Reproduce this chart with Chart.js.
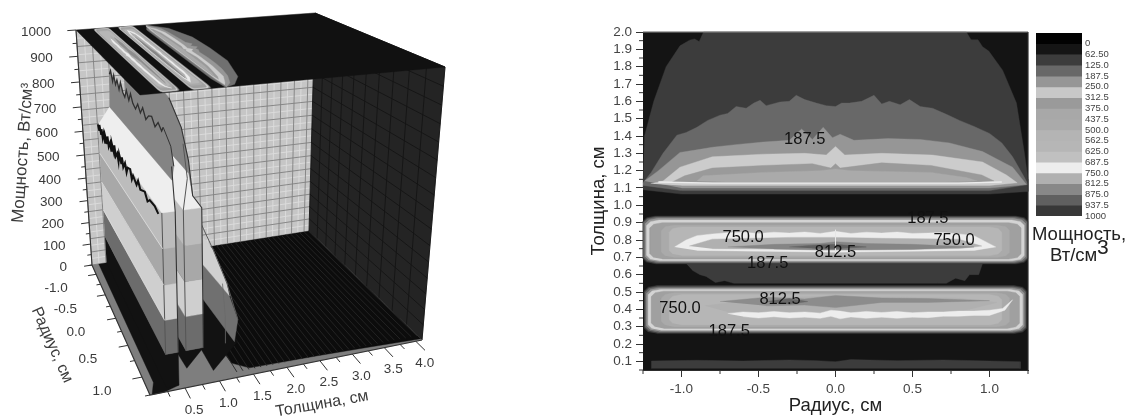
<!DOCTYPE html>
<html>
<head>
<meta charset="utf-8">
<title>Мощность</title>
<script src="https://cdn.jsdelivr.net/npm/chart.js@4"></script>
<style>
  html, body { margin: 0; background: #fff; }
  body { width: 1127px; height: 419px; position: relative; overflow: hidden; }
  .box { position: absolute; top: 0; height: 419px; }
  .box canvas { filter: blur(.6px); }
</style>
</head>
<body>
<div class="box" style="left:0;width:480px"><canvas id="surface" width="480" height="419"></canvas></div>
<div class="box" style="left:588px;width:442px"><canvas id="contour" width="442" height="419"></canvas></div>
<div class="box" style="left:1030px;width:97px"><canvas id="scale" width="97" height="419"></canvas></div>
<script>
/* ── Axis ticks ──────────────────────────────────────────── */
const thicknessTicks = [0.1,0.2,0.3,0.4,0.5,0.6,0.7,0.8,0.9,1.0,1.1,1.2,1.3,1.4,1.5,1.6,1.7,1.8,1.9,2.0];
const radiusTicks    = [-1.0,-0.5,0.0,0.5,1.0];
const radiusMinor    = [-1.25,-0.75,-0.25,0.25,0.75,1.25];
const powerTicks3d   = [0,100,200,300,400,500,600,700,800,900,1000];
const radiusTicks3d  = [-1.0,-0.5,0.0,0.5,1.0];
const thickTicks3d   = [0.5,1.0,1.5,2.0,2.5,3.0,3.5,4.0];

/* ── Colour scale ────────────────────────────────────────── */
const powerLabels = ['0','62.50','125.0','187.5','250.0','312.5','375.0','437.5','500.0','562.5','625.0','687.5','750.0','812.5','875.0','937.5','1000'];
const powerGrays  = ['#020202','#151515','#3c3c3c','#686868','#969696','#c8c8c8','#9a9a9a','#a8a8a8','#aaaaaa','#b4b4b4','#b6b6b6','#c0c0c0','#ededed','#b0b0b0','#888888','#606060','#383838'];

/* ── Contour edges (radius, thickness) ───────────────────── */
const bgR = [-1.25,1.25,1.25,-1.25];
const bgT = [0.05,0.05,2.0,2.0];

const u1R = [-1.25,-1.24,-1.18,-1.10,-1.01,-0.948,-0.915,-0.885,-0.857,0.85,0.88,0.925,0.955,0.995,1.085,1.175,1.227,1.25,1.25,1.0,-1.0,-1.25];
const u1T = [1.10,1.40,1.60,1.80,1.92,1.953,1.96,1.945,2.0,2.0,1.955,1.955,1.915,1.89,1.78,1.59,1.30,1.15,1.08,1.065,1.065,1.09];
const u2R = [-1.25,-1.197,-1.12,-1.03,-0.97,-0.90,-0.83,-0.75,-0.70,-0.645,-0.58,-0.53,-0.49,-0.45,-0.36,-0.30,-0.255,-0.20,-0.125,-0.06,0,0.04,0.09,0.17,0.25,0.30,0.35,0.42,0.48,0.55,0.63,0.72,0.805,0.90,1.0,1.08,1.15,1.227,1.25,1.0,-1.0,-1.25];
const u2T = [1.13,1.19,1.30,1.405,1.42,1.45,1.49,1.52,1.53,1.57,1.56,1.59,1.606,1.575,1.596,1.60,1.635,1.61,1.59,1.575,1.57,1.59,1.59,1.60,1.635,1.585,1.60,1.58,1.61,1.57,1.56,1.525,1.49,1.455,1.415,1.36,1.28,1.16,1.12,1.085,1.085,1.115];
const u3R = [-1.24,-1.15,-1.01,-0.9,-0.8,-0.65,-0.47,-0.3,-0.22,-0.15,-0.08,-0.02,0.03,0.12,0.34,0.55,0.74,0.955,1.15,1.24,1.0,-1.0];
const u3T = [1.14,1.2,1.305,1.32,1.335,1.35,1.365,1.375,1.44,1.38,1.45,1.39,1.41,1.375,1.385,1.38,1.36,1.31,1.22,1.12,1.10,1.10];
const u4R = [-1.2,-1.12,-1.01,-0.8,-0.47,-0.2,-0.06,0,0.06,0.3,0.63,0.955,1.11,1.18,1.0,-1.0];
const u4T = [1.125,1.14,1.22,1.28,1.295,1.30,1.29,1.34,1.29,1.30,1.29,1.25,1.175,1.13,1.115,1.115];
const u5R = [-1.06,-0.98,-0.8,-0.47,-0.15,-0.03,0,0.03,0.3,0.62,0.95,1.03,0.9,-0.9];
const u5T = [1.135,1.17,1.215,1.23,1.24,1.215,1.24,1.215,1.245,1.23,1.175,1.14,1.132,1.132];
const u6R = [-0.9,-0.86,-0.47,-0.1,0,0.1,0.62,0.85,0.92,0.7,-0.7];
const u6T = [1.14,1.17,1.19,1.2,1.21,1.2,1.19,1.16,1.14,1.135,1.135];
const brightR = [-1.15,-0.8,0,0.8,1.08];
const brightT = [1.135,1.128,1.128,1.128,1.135];
/* smooth outline of the upper layer as it appears on the 3D roof */
const roofR = [-1.25,-1.0,-0.5,0,0.5,1.0,1.2,1.25,1.0,-1.0];
const roofT = [1.15,1.42,1.58,1.6,1.58,1.42,1.25,1.1,1.06,1.06];

/* gap between the upper and the middle layer */
const gapR = [-0.97,0.955,0.93,0.87,0.84,0.78,0.72,0.66,-0.66,-0.72,-0.78,-0.84,-0.88,-0.93];
const gapT = [0.665,0.665,0.60,0.60,0.565,0.58,0.55,0.55,0.55,0.565,0.555,0.59,0.60,0.625];
/* thin strip at the bottom */
const stripR = [-1.195,-1.195,-0.9,-0.6,-0.3,-0.12,0,0.1,0.4,0.7,1.0,1.2,1.2];
const stripT = [0.058,0.102,0.106,0.102,0.108,0.104,0.098,0.11,0.104,0.108,0.102,0.098,0.058];

/* nested rounded bands of the middle and the lower layer */
const midBandR  = [1.25,1.245,1.235,1.225,1.205,1.13,1.08];
const midBandLo = [0.662,0.668,0.674,0.68,0.69,0.70,0.71];
const midBandHi = [0.938,0.932,0.925,0.915,0.90,0.885,0.875];
const lowBandR  = [1.24,1.235,1.225,1.215,1.195,1.13,1.08];
const lowBandLo = [0.26,0.267,0.273,0.28,0.29,0.30,0.31];
const lowBandHi = [0.537,0.53,0.523,0.515,0.505,0.495,0.485];
const bandGrays = ['#3c3c3c','#686868','#969696','#d4d4d4','#a0a0a0','#aaaaaa','#b6b6b6'];

const midWhiteR = [-1.045,-0.97,-0.9,-0.8,-0.7,-0.6,-0.5,-0.4,-0.3,-0.2,-0.1,0,0.1,0.2,0.3,0.4,0.5,0.6,0.7,0.8,0.9,1.04,0.9,0,-0.9];
const midWhiteT = [0.76,0.80,0.825,0.835,0.842,0.845,0.838,0.845,0.84,0.846,0.838,0.85,0.838,0.845,0.84,0.846,0.838,0.84,0.843,0.835,0.825,0.76,0.74,0.73,0.74];
const midInnerR = [-0.95,-0.8,-0.3,0,0.3,0.8,0.95,0.8,0,-0.8];
const midInnerT = [0.765,0.805,0.815,0.815,0.81,0.805,0.765,0.75,0.745,0.75];
const midDarkR  = [-0.7,-0.4,-0.1,0,0.2,0.5,0.9,0.5,0.1,-0.1,-0.4];
const midDarkT  = [0.76,0.775,0.78,0.79,0.78,0.775,0.76,0.745,0.742,0.742,0.748];
const midCoreR  = [-0.3,-0.15,0.0,0.2,0.0,-0.15];
const midCoreT  = [0.76,0.77,0.775,0.76,0.75,0.752];
const midSpikeR = [0,0];
const midSpikeT = [0.72,0.86];

const lowInnerR = [-0.85,-0.4,0,0.4,0.8,1.05,0.8,0.4,0,-0.4,-0.7];
const lowInnerT = [0.42,0.47,0.475,0.47,0.465,0.44,0.385,0.385,0.385,0.385,0.385];
const lowWhiteR = [-0.7,-0.6,-0.5,-0.4,-0.3,-0.2,-0.1,-0.03,0.03,0.1,0.2,0.3,0.4,0.5,0.6,0.7,0.8,0.9,1.0,1.085,1.15,1.1,1.0,0.9,0.8,0.7,0.6,0.5,0.4,0.3,0.2,0.1,0.03,-0.03,-0.1,-0.2,-0.3,-0.4,-0.5,-0.6];
const lowWhiteT = [0.375,0.385,0.38,0.388,0.38,0.385,0.378,0.395,0.39,0.38,0.388,0.382,0.388,0.38,0.385,0.385,0.39,0.39,0.395,0.405,0.455,0.395,0.365,0.365,0.36,0.36,0.352,0.355,0.348,0.355,0.348,0.356,0.345,0.36,0.348,0.355,0.35,0.357,0.35,0.358];
const lowDarkR  = [-0.75,-0.45,-0.2,0,0.3,0.6,1.0,0.6,0.3,0,-0.2,-0.45];
const lowDarkT  = [0.445,0.47,0.46,0.48,0.465,0.462,0.45,0.44,0.44,0.41,0.425,0.42];
const lowCoreR  = [-0.45,-0.3,-0.18,-0.3];
const lowCoreT  = [0.445,0.462,0.445,0.43];

/* contour labels */
const labelR = [-0.20,0.60,-0.60,0.77,0.0,-0.44,-0.36,-1.01,-0.69];
const labelT = [1.38,0.925,0.815,0.80,0.73,0.665,0.457,0.405,0.27];
const labelV = ['187.5','187.5','750.0','750.0','812.5','187.5','812.5','750.0','187.5'];

/* ── Surface profiles (radius, thickness, power) ─────────── */
const ridgeLevels = [0,125,250,375,500,620];
const ridgeGrays  = ['#121212','#6c6c6c','#cfcfcf','#a8a8a8','#bcbcbc'];
const shoulderR = [-1.25,-1.2,-1.17,-1.1,-1.06,-1.02,-0.95,-0.9,-0.87,-0.8,-0.76,-0.72,-0.64,-0.6,-0.56,-0.48,-0.44,-0.4,-0.32,-0.28,-0.24,-0.16,-0.12,-0.08,0,0.05,0.1,0.2,0.25,0.3,0.42,0.48,0.55,0.7,0.78,0.85,1.0,1.1];
const shoulderP = [622,604,628,598,622,590,618,585,612,594,626,590,615,588,622,596,628,590,612,586,620,594,622,590,616,588,612,620,590,610,594,618,596,612,590,606,610,600];
const crestR = [-1.25,-1.18,-1.1,-1.03,-0.96,-0.88,-0.8,-0.72,-0.63,-0.55,-0.47,-0.38,-0.3,-0.22,-0.12,-0.03,0.06,0.15,0.25,0.35,0.45,0.55,0.65,0.75,0.8,1.0,1.07];
const crestP = [820,840,805,835,805,830,800,835,805,795,828,800,832,805,795,822,800,828,798,822,832,808,834,818,836,800,745];
const ridge2R = [-1.25,0.46,0.8,0.975,1.07];
const ridge2P = [940,890,829,743,640];
const ridge3R = [-1.25,0.2,0.59,0.94,1.2];
const ridge3P = [420,390,343,285,206];

/* ── Shared chart defaults ───────────────────────────────── */
Chart.defaults.font.family = "'Liberation Sans', Arial, sans-serif";
Chart.defaults.animation = false;
Chart.defaults.responsive = false;
Chart.defaults.plugins.legend.display = false;
Chart.defaults.plugins.tooltip.enabled = false;

const zip = (xs, ys) => xs.map((x, i) => ({ x, y: ys[i] }));
const area = (data, color) => ({
  data, showLine: true, fill: 'shape', pointRadius: 0, tension: 0,
  backgroundColor: color, borderColor: color, borderWidth: 0.4,
});
const stroke = (data, color, width) => ({
  data, showLine: true, fill: false, pointRadius: 0, tension: 0,
  borderColor: color, borderWidth: width,
});
/* later items lie on top */
const stack = list => list.map((d, i) => ({ ...d, order: list.length - i, clip: false }));

/* symmetric band with cut corners */
function roundBand(rEdge, lo, hi) {
  const a = 0.08, b = 0.03;
  return [
    [-rEdge + a, lo], [rEdge - a, lo], [rEdge - a * 0.3, lo + b * 0.3], [rEdge, lo + b],
    [rEdge, hi - b], [rEdge - a * 0.3, hi - b * 0.3], [rEdge - a, hi], [-rEdge + a, hi],
    [-rEdge + a * 0.3, hi - b * 0.3], [-rEdge, hi - b], [-rEdge, lo + b], [-rEdge + a * 0.3, lo + b * 0.3],
  ].map(p => ({ x: p[0], y: p[1] }));
}

/* ring list: back to front; flags say where it shows (map, roof of the 3D box) */
const rings = [];
const ring = (data, color, roof, map = true) => rings.push({ data, color, roof, map });
ring(zip(u1R, u1T), powerGrays[2], false);
ring(zip(u2R, u2T), powerGrays[3], false);
ring(zip(roofR, roofT), '#707070', true, false);
ring(zip(u3R, u3T), powerGrays[4], true);
ring(zip(u4R, u4T), '#cccccc', true);
ring(zip(u5R, u5T), powerGrays[6], true);
ring(zip(u6R, u6T), powerGrays[8], true);
ring(zip(gapR, gapT), powerGrays[2], false);
ring(zip(stripR, stripT), powerGrays[2], false);
midBandR.forEach((r, i) => ring(roundBand(r, midBandLo[i], midBandHi[i]), bandGrays[i], i > 0));
ring(zip(midWhiteR, midWhiteT), '#ededed', true);
ring(zip(midInnerR, midInnerT), powerGrays[13], true);
ring(zip(midDarkR, midDarkT), '#858585', true);
ring(zip(midCoreR, midCoreT), '#606060', false);
lowBandR.forEach((r, i) => ring(roundBand(r, lowBandLo[i], lowBandHi[i]), bandGrays[i], i > 0));
ring(zip(lowInnerR, lowInnerT), powerGrays[13], true);
ring(zip(lowWhiteR, lowWhiteT), '#ededed', true);
ring(zip(lowDarkR, lowDarkT), '#8c8c8c', true);
ring(zip(lowCoreR, lowCoreT), '#666666', false);

/* ── 1. 3D surface, projected through the box corners ────── */
const BOX = {
  floor: [[92,265],[150,395],[309,231],[422,340]],   // (rMin,t0) (rMax,t0) (rMin,tMax) (rMax,tMax)
  roof:  [[76,30],[140,95],[315,13],[445,67]],
  rMin: -1.25, rMax: 1.25, tMax: 4.1, pMax: 1000,
};
const warp = (u, k) => u / (u + k * (1 - u));
function project(r, t, p) {
  const u = warp((r - BOX.rMin) / (BOX.rMax - BOX.rMin), 1.44);
  const v = warp(t / BOX.tMax, 0.94);
  const w = warp(p / BOX.pMax, 1.136);
  const on = (c, i) =>
    (c[0][i] * (1 - u) + c[1][i] * u) * (1 - v) + (c[2][i] * (1 - u) + c[3][i] * u) * v;
  return {
    x: on(BOX.floor, 0) * (1 - w) + on(BOX.roof, 0) * w,
    y: on(BOX.floor, 1) * (1 - w) + on(BOX.roof, 1) * w,
  };
}
const poly = rows => rows.map(a => project(a[0], a[1], a[2]));
const GAP = { x: NaN, y: NaN };
const segs = list => list.flatMap(s => [...poly(s), GAP]);

function wallGrid() {
  const { rMin, rMax, tMax, pMax } = BOX;
  const l = { dark: [], pale: [], right: [], stripes: [] };
  for (let t = 0; t <= tMax; t += 0.125) {
    const major = Math.round(t * 8) % 2 === 0;
    (major ? l.dark : l.pale).push([[rMin, t, 0], [rMin, t, pMax]]);
  }
  for (let p = 0; p <= pMax; p += 31.25) {
    const major = Math.round(p / 31.25) % 2 === 0;
    (major ? l.dark : l.pale).push([[rMin, 0, p], [rMin, tMax, p]]);
  }
  for (let r = rMin; r <= rMax; r += 0.25) l.right.push([[r, tMax, 0], [r, tMax, pMax]]);
  for (let p = 0; p <= pMax; p += 62.5) l.right.push([[rMin, tMax, p], [rMax, tMax, p]]);
  for (let t = 1.3; t <= tMax; t += 0.09) l.stripes.push([[rMin, t, 0], [1.18, t, 0]]);
  return l;
}

function ridgeBands(tFront, tBack, rEnd) {
  const out = [];
  for (let i = 0; i < ridgeGrays.length; i++) {
    const lo = ridgeLevels[i], hi = ridgeLevels[i + 1];
    out.push(area(poly([[BOX.rMin,tFront,lo],[rEnd,tFront,lo],[rEnd,tBack,lo],[rEnd,tBack,hi],[rEnd,tFront,hi],[BOX.rMin,tFront,hi]]), ridgeGrays[i]));
  }
  return out;
}

function surfaceLayers() {
  const { rMin, rMax, tMax, pMax } = BOX;
  const g = wallGrid();
  const out = [];
  // walls
  out.push(area(poly([[rMin,0,0],[rMin,tMax,0],[rMin,tMax,pMax],[rMin,0,pMax]]), '#c6c6c6'));
  out.push(stroke(segs(g.pale), '#dddddd', 0.9));
  out.push(stroke(segs(g.dark), '#808080', 0.9));
  out.push(area(poly([[rMin,tMax,0],[rMax,tMax,0],[rMax,tMax,pMax],[rMin,tMax,pMax]]), '#242424'));
  out.push(stroke(segs(g.right), '#141414', 0.9));
  // floor: grey plate, black surface with stripes
  out.push(area(poly([[rMin,0,0],[rMax,0,0],[rMax,tMax,0],[rMin,tMax,0]]), '#7e7e7e'));
  out.push(area(poly([[rMin,1.1,0],[1.05,1.3,0],[1.16,1.5,0],[1.18,2.5,0],[1.2,3.2,0],[1.23,4.1,0],[rMin,tMax,0]]), '#0c0c0c'));
  out.push(stroke(segs(g.stripes), '#262626', 0.9));

  // third ridge
  out.push(area(poly([[rMin,1.0,0],[1.1,1.0,0],[1.2,1.3,125],[rMin,1.1,125]]), '#121212'));
  out.push(area(poly([[rMin,1.1,125],[1.2,1.25,125],[1.2,1.3,206],[1.0,1.3,250],[rMin,1.1,250]]), '#707070'));
  out.push(area(poly([[rMin,1.1,250],[1.0,1.3,250],[0.94,1.3,285],[0.59,1.3,343],[0.3,1.2,375],[rMin,1.1,375]]), '#d0d0d0'));
  out.push(area(poly([[rMin,1.1,375],[0.3,1.2,375],...ridge3R.slice(0,2).reverse().map((r,i) => [r,1.3,ridge3P[1-i]])]), '#bcbcbc'));
  out.push(stroke(poly(ridge3R.map((r,i) => [r,1.3,ridge3P[i]])), '#5a5a5a', 1));
  out.push(stroke(poly([[1.2,1.12,125],[1.2,1.12,220],[1.0,1.2,300]]), '#6a6a6a', 0.8));

  // second ridge
  out.push(area(poly([[rMin,0.5,0],[1.0,0.66,0],[1.2,0.8,125],[1.2,0.55,125],[rMin,0.55,125]]), '#121212'));
  ridgeBands(0.55, 0.8, 1.2).slice(1).forEach(b => out.push(b));
  const r2 = ridge2R.map((r,i) => [r,0.75,ridge2P[i]]);
  out.push(area(poly([[rMin,0.55,620],[1.2,0.55,620],[1.2,0.8,620],[1.07,0.75,640],[0.975,0.75,700],[rMin,0.75,700]]), '#eeeeee'));
  out.push(area(poly([[rMin,0.75,700],[0.975,0.75,700],[1.07,0.75,640],...r2.slice().reverse()]), '#848484'));
  out.push(stroke(poly([[1.2,0.55,125],[1.2,0.55,620],[1.07,0.68,700],[0.975,0.68,800]]), '#555555', 1));
  out.push(stroke(poly([[1.2,0.8,125],[1.2,0.8,620],...r2.slice(1).reverse()]), '#333333', 1.1));

  // first ridge
  out.push(area(poly([[rMin,0.12,0],[1.1,0.12,0],[1.25,0.03,0],[1.25,0.2,0],[1.2,0.44,0],[rMin,0.44,0]]), '#121212'));
  ridgeBands(0.26, 0.44, 1.2).forEach(b => out.push(b));
  const crest = crestR.map((r,i) => [r,0.5,crestP[i]]);
  out.push(area(poly([[rMin,0.26,620],[1.2,0.26,620],[1.2,0.44,620],[1.16,0.45,650],[1.07,0.47,700],[rMin,0.47,690]]), '#eeeeee'));
  out.push(area(poly([[rMin,0.47,690],[1.07,0.47,700],...crest.slice().reverse()]), '#848484'));
  out.push(stroke(poly(crest.slice(0,-2)), '#303030', 1.3));
  out.push(stroke(poly(crest.slice(-3)), '#333333', 1));
  out.push(stroke(poly(shoulderR.map((r,i) => [r,0.26,shoulderP[i]])), '#111111', 2));
  out.push(stroke(poly([[1.2,0.26,125],[1.2,0.26,620]]), '#555555', 1));
  out.push(stroke(poly([[1.2,0.44,125],[1.2,0.44,620],[1.16,0.45,650],[1.07,0.47,745]]), '#333333', 1.1));
  ridgeLevels.slice(2, -1).forEach(p =>
    out.push(stroke(poly([[rMin,0.26,p],[1.2,0.26,p]]), '#e4e4e4', 0.7)));

  // roof with the contour map on it
  out.push(area(poly([[rMin,0,pMax],[rMax,0,pMax],[rMax,tMax,pMax],[rMin,tMax,pMax]]), '#111111'));
  rings.filter(x => x.roof).forEach(x =>
    out.push(area(poly(x.data.map(q => [q.x, q.y, pMax])), x.color)));

  // axes and ticks
  const ticks = [];
  powerTicks3d.forEach(p => ticks.push([[rMin,0,p],[rMin,-0.14,p]]));
  [50,150,250,350,450,550,650,750,850,950].forEach(p => ticks.push([[rMin,0,p],[rMin,-0.07,p]]));
  radiusTicks3d.forEach(r => ticks.push([[r,0,0],[r,-0.14,0]]));
  [-1.25,-0.75,-0.25,0.25,0.75,1.25].forEach(r => ticks.push([[r,0,0],[r,-0.07,0]]));
  thickTicks3d.forEach(t => ticks.push([[rMax,t,0],[rMax+0.14,t,0]]));
  [0.25,0.75,1.25,1.75,2.25,2.75,3.25,3.75].forEach(t => ticks.push([[rMax,t,0],[rMax+0.07,t,0]]));
  out.push(stroke(segs(ticks), '#333333', 1));
  out.push(stroke(poly([[rMin,0,pMax],[rMin,0,0],[rMax,0,0],[rMax,tMax,0]]), '#333333', 1.1));
  return out;
}

const surfaceText = {
  id: 'surfaceText',
  afterDraw(chart) {
    const c = chart.ctx, sx = chart.scales.x, sy = chart.scales.y;
    const put = (r, t, p, dx, dy, s, align) => {
      const q = project(r, t, p);
      c.textAlign = align;
      c.fillText(s, sx.getPixelForValue(q.x) + dx, sy.getPixelForValue(q.y) + dy);
    };
    c.save();
    c.fillStyle = '#3a3a3a';
    c.textBaseline = 'middle';
    c.font = "13.5px 'Liberation Sans'";
    powerTicks3d.forEach(p => put(BOX.rMin, 0, p, -25, 2, String(p), 'right'));
    radiusTicks3d.forEach(r => put(r, 0, 0, -40, 14, r.toFixed(1), 'center'));
    thickTicks3d.forEach(t => put(BOX.rMax, t, 0, 9, 22, t.toFixed(1), 'center'));
    c.textAlign = 'center';
    const turned = (s, x, y, deg, size) => {
      c.save();
      c.translate(x, y);
      c.rotate(deg * Math.PI / 180);
      c.font = size + "px 'Liberation Sans'";
      c.fillText(s, 0, 0);
      c.restore();
    };
    turned('Мощность, Вт/см³', 23, 153, -86, 17);
    turned('Радиус, см', 52, 345, 66, 16);
    turned('Толщина, см', 322, 404, -10, 16);
    c.restore();
  },
};

new Chart(document.getElementById('surface'), {
  type: 'scatter',
  data: { datasets: stack(surfaceLayers()) },
  options: {
    layout: { padding: 0 },
    scales: {
      x: { type: 'linear', min: 0, max: 480, display: false },
      y: { type: 'linear', min: 0, max: 419, reverse: true, display: false },
    },
  },
  plugins: [surfaceText],
});

/* ── 2. Contour map ──────────────────────────────────────── */
const contourExtras = {
  id: 'contourExtras',
  afterDraw(chart) {
    const c = chart.ctx, sx = chart.scales.x, sy = chart.scales.y, a = chart.chartArea;
    c.save();
    // frame
    c.strokeStyle = '#8a8a8a';
    c.lineWidth = 1;
    c.beginPath(); c.moveTo(a.left, a.top); c.lineTo(a.right, a.top); c.stroke();
    c.strokeStyle = '#333333';
    c.beginPath(); c.moveTo(a.right, a.top); c.lineTo(a.right, a.bottom); c.stroke();
    // minor ticks
    c.beginPath();
    radiusMinor.forEach(v => {
      const x = sx.getPixelForValue(v);
      c.moveTo(x, a.bottom); c.lineTo(x, a.bottom + 4);
    });
    thicknessTicks.forEach(v => {
      const y = sy.getPixelForValue(v - 0.05);
      c.moveTo(a.left, y); c.lineTo(a.left - 4, y);
    });
    c.stroke();
    // contour labels
    c.fillStyle = '#111111';
    c.font = "16.5px 'Liberation Sans'";
    c.textAlign = 'center';
    c.textBaseline = 'middle';
    labelV.forEach((s, i) => c.fillText(s, sx.getPixelForValue(labelR[i]), sy.getPixelForValue(labelT[i])));
    c.restore();
  },
};

new Chart(document.getElementById('contour'), {
  type: 'scatter',
  data: {
    datasets: stack([
      area(zip(bgR, bgT), '#141414'),
      ...rings.filter(x => x.map).map(x => area(x.data, x.color)),
      stroke(zip(brightR, brightT), '#ececec', 1.4),
      stroke(zip(midSpikeR, midSpikeT), '#e6e6e6', 1),
    ]),
  },
  options: {
    layout: { padding: { top: 32, right: 2, bottom: 2 } },
    scales: {
      x: {
        type: 'linear', min: -1.25, max: 1.25,
        grid: { drawOnChartArea: false, tickLength: 7, color: '#333333' },
        border: { color: '#333333' },
        afterBuildTicks: s => { s.ticks = radiusTicks.map(value => ({ value })); },
        afterFit: s => { s.height = 47; },
        ticks: { color: '#444444', font: { size: 13.5 }, padding: 4, maxRotation: 0, callback: v => v.toFixed(1) },
        title: { display: true, text: 'Радиус, см', color: '#222222', font: { size: 18.5 }, padding: 0 },
      },
      y: {
        type: 'linear', min: 0.05, max: 2.0,
        grid: { drawOnChartArea: false, tickLength: 7, color: '#333333' },
        border: { color: '#333333' },
        afterBuildTicks: s => { s.ticks = thicknessTicks.map(value => ({ value })); },
        afterFit: s => { s.width = 55; },
        ticks: { color: '#444444', font: { size: 13.5 }, padding: 4, autoSkip: false, callback: v => v.toFixed(1) },
        title: { display: true, text: 'Толщина, см', color: '#222222', font: { size: 18.5 }, padding: 0 },
      },
    },
  },
  plugins: [contourExtras],
});

/* ── 3. Colour scale ─────────────────────────────────────── */
const scaleTitle = {
  id: 'scaleTitle',
  afterDraw(chart) {
    const c = chart.ctx;
    c.save();
    c.fillStyle = '#222222';
    c.font = "18.5px 'Liberation Sans'";
    c.textBaseline = 'middle';
    c.textAlign = 'left';
    c.fillText('Мощность,', 2, 235);
    c.fillText('Вт/см', 20, 256);
    c.font = "21px 'Liberation Sans'";
    c.fillText('3', 67, 248);
    c.restore();
  },
};

new Chart(document.getElementById('scale'), {
  type: 'bar',
  data: {
    labels: ['power'],
    datasets: powerGrays.map(color => ({ data: [1], backgroundColor: color, barPercentage: 1, categoryPercentage: 1 })),
  },
  options: {
    layout: { padding: { top: 33, left: 6, bottom: 203 } },
    scales: {
      x: { stacked: true, display: false },
      y: {
        stacked: true, position: 'right', reverse: true, min: 0, max: 17,
        grid: { display: false, drawTicks: false },
        border: { display: false },
        afterBuildTicks: s => { s.ticks = powerLabels.map((_, i) => ({ value: i + 1 })); },
        afterFit: s => { s.width = 45; },
        ticks: { color: '#444444', font: { size: 9.5 }, padding: 3, autoSkip: false, callback: v => powerLabels[v - 1] },
      },
    },
  },
  plugins: [scaleTitle],
});
</script>
</body>
</html>
